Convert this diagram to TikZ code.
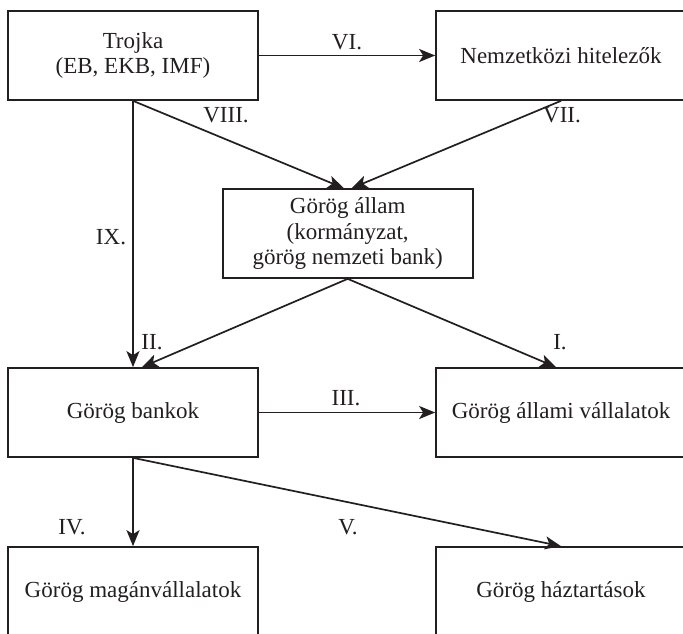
\documentclass[tikz,border=0pt]{standalone}
\usepackage{fontspec}
\setmainfont{Liberation Serif}
\usetikzlibrary{arrows.meta}
\definecolor{ink}{HTML}{231F20}
\tikzset{
  box/.style={draw=ink, line width=1.7pt, minimum width=250pt, minimum height=89pt,
    inner sep=0pt, align=center, text=ink, font=\fontsize{23}{25.5}\selectfont},
  lbl/.style={inner sep=0pt, text=ink, font=\fontsize{23}{25.5}\selectfont},
  conn/.style={draw=ink, line width=1.7pt, -{Stealth[length=16pt,width=13pt,inset=4pt]}}
}
\begin{document}
\begin{tikzpicture}[x=1pt,y=-1pt]
\useasboundingbox (0,0) rectangle (683,634);
\clip (0,0) rectangle (683,634);
\fill[white] (0,0) rectangle (683,634);
% boxes
\node[box] (trojka) at (133,55.5) {Trojka\\(EB, EKB, IMF)};
\node[box] (nemz) at (561,55.5) {Nemzetközi hitelezők};
\node[box] (allam) at (347.7,233.5) {Görög állam\\(kormányzat,\\görög nemzeti bank)};
\node[box] (bankok) at (133,412.5) {Görög bankok};
\node[box] (allvall) at (561,412.5) {Görög állami vállalatok};
\node[box] (magan) at (133,591.5) {Görög magánvállalatok};
\node[box] (haz) at (561,591.5) {Görög háztartások};
% connectors
\draw[conn] (trojka.east) -- (nemz.west);
\draw[conn] (trojka.south) -- ([xshift=-4pt]allam.north);
\draw[conn] (nemz.south) -- ([xshift=4pt]allam.north);
\draw[conn] (trojka.south) -- (bankok.north);
\draw[conn] (allam.south) -- ([xshift=9pt]bankok.north);
\draw[conn] (allam.south) -- ([xshift=-5pt]allvall.north);
\draw[conn] (bankok.east) -- (allvall.west);
\draw[conn] (bankok.south) -- (magan.north);
\draw[conn] (bankok.south) -- (haz.north);
% labels
\node[lbl] (lVI) at (347,42) {VI.};
\node[lbl] (lVIII) at (226,115) {VIII.};
\node[lbl] (lVII) at (562,115) {VII.};
\node[lbl] (lIX) at (111,237) {IX.};
\node[lbl] (lII) at (152,342) {II.};
\node[lbl] (lI) at (560,342) {I.};
\node[lbl] (lIII) at (346,398) {III.};
\node[lbl] (lIV) at (72,527) {IV.};
\node[lbl] (lV) at (348,527) {V.};
\end{tikzpicture}
\end{document}
